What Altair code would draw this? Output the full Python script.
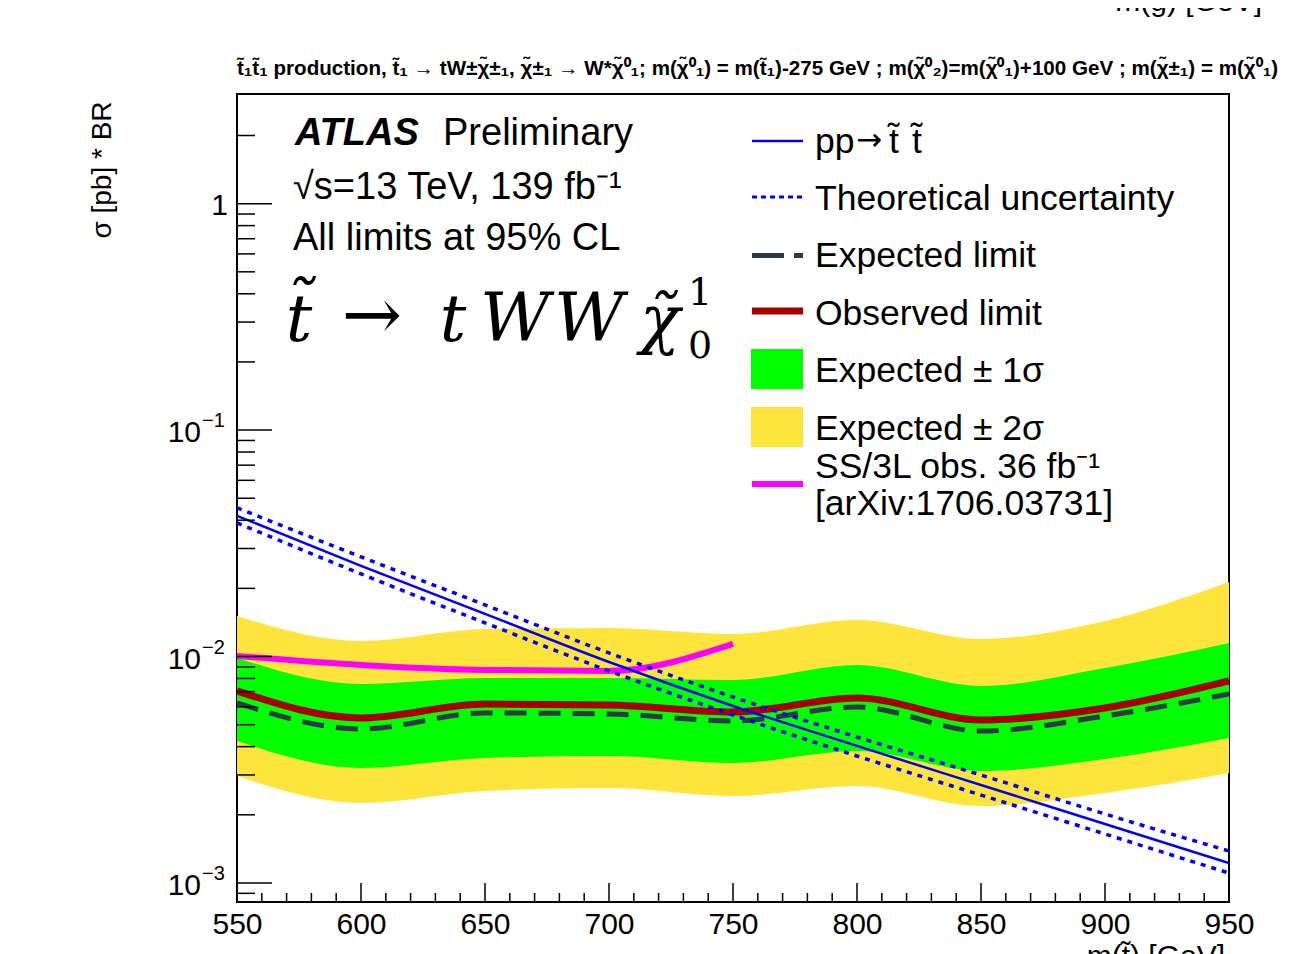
import altair as alt
import pandas as pd

# ---------------- data ----------------
mass = [550, 600, 650, 700, 750, 800, 850, 900, 950]
theory = [0.04181, 0.02514, 0.01543, 0.00946, 0.00605, 0.00403, 0.002707, 0.001821, 0.001224]
theory_up = [0.04537, 0.02755, 0.01690, 0.01037, 0.006629, 0.004413, 0.002998, 0.002016, 0.001384]
theory_down = [0.03894, 0.02317, 0.01408, 0.008639, 0.005519, 0.003636, 0.002445, 0.001645, 0.001106]
expected = [0.006237, 0.004787, 0.005634, 0.005577, 0.005193, 0.005989, 0.004690, 0.005464, 0.006835]
observed = [0.007047, 0.005355, 0.006172, 0.006110, 0.005691, 0.006561, 0.005246, 0.005929, 0.007802]
exp_1s_up = [0.009858, 0.007565, 0.008043, 0.008043, 0.007882, 0.009181, 0.007417, 0.008906, 0.01148]
exp_1s_down = [0.004236, 0.003219, 0.003563, 0.003636, 0.003387, 0.003827, 0.003123, 0.003527, 0.004368]
exp_2s_up = [0.01511, 0.01172, 0.01324, 0.01338, 0.01259, 0.01451, 0.01196, 0.01437, 0.02136]
exp_2s_down = [0.002968, 0.002255, 0.002548, 0.002627, 0.002421, 0.002681, 0.002187, 0.002496, 0.003059]
ss3l_mass = [550, 600, 650, 700, 750]
ss3l_obs = [0.01006, 0.009181, 0.008727, 0.008639, 0.01137]

x_major = [550, 600, 650, 700, 750, 800, 850, 900, 950]
x_minor = [m for m in range(560, 950, 10) if m % 50 != 0]
y_major = [0.001, 0.01, 0.1, 1]
y_minor = [0.0009,
           0.002, 0.003, 0.004, 0.005, 0.006, 0.007, 0.008, 0.009,
           0.02, 0.03, 0.04, 0.05, 0.06, 0.07, 0.08, 0.09,
           0.2, 0.3, 0.4, 0.5, 0.6, 0.7, 0.8, 0.9, 2]
y_label_vals = [0.1, 0.01, 0.001]
y_label_sups = ["\u22121", "\u22122", "\u22123"]

legend_labels = ["Theoretical uncertainty", "Expected limit",
                 "Observed limit", "Expected \u00b1 1\u03c3", "Expected \u00b1 2\u03c3",
                 "SS/3L obs. 36 fb\u207b\u00b9", "[arXiv:1706.03731]"]

# ---------------- style ----------------
SANS = "Liberation Sans, Arial, Helvetica, sans-serif"
SERIF = "DejaVu Serif, Liberation Serif, serif"
YEL = "#FFE53B"
GRN = "#00FF00"
RED = "#A80000"
DKG = "#2D3B44"
BLU = "#0000FF"
MAG = "#FF00FF"
W, H = 992, 808

xscale = alt.Scale(domain=[550, 950], nice=False, zero=False)
yscale = alt.Scale(type="log", domain=[0.000824, 3.05], nice=False)
xaxis = alt.Axis(values=x_major, ticks=False, domain=False, grid=False, labelFontSize=30,
                 labelFont=SANS, labelColor="black", labelPadding=7, title=None,
                 labelFlush=False, labelOverlap=False, tickSize=0, format="d")

band_df = pd.DataFrame({"m": mass, "lo2": exp_2s_down, "hi2": exp_2s_up,
                        "lo1": exp_1s_down, "hi1": exp_1s_up})
line_df = pd.DataFrame({"m": mass, "theory": theory, "up": theory_up, "down": theory_down,
                        "exp": expected, "obs": observed})
ss_df = pd.DataFrame({"m": ss3l_mass, "v": ss3l_obs})

X = alt.X("m:Q", scale=xscale, axis=xaxis)


def Y(field):
    return alt.Y(field, scale=yscale, axis=None)


yellow = alt.Chart(band_df).mark_area(color=YEL, interpolate="monotone", clip=True).encode(
    x=X, y=Y("lo2:Q"), y2="hi2:Q")
green = alt.Chart(band_df).mark_area(color=GRN, interpolate="monotone", clip=True).encode(
    x=X, y=Y("lo1:Q"), y2="hi1:Q")
exp_line = alt.Chart(line_df).mark_line(color=DKG, strokeWidth=5, strokeDash=[22, 12],
                                        interpolate="monotone", clip=True).encode(x=X, y=Y("exp:Q"))
obs_line = alt.Chart(line_df).mark_line(color=RED, strokeWidth=7, interpolate="monotone",
                                        clip=True).encode(x=X, y=Y("obs:Q"))
ss_line = alt.Chart(ss_df).mark_line(color=MAG, strokeWidth=6, interpolate="monotone",
                                     clip=True).encode(x=X, y=Y("v:Q"))
th_up = alt.Chart(line_df).mark_line(color=BLU, strokeWidth=3.5, strokeDash=[5, 6],
                                     interpolate="monotone", clip=True).encode(x=X, y=Y("up:Q"))
th_dn = alt.Chart(line_df).mark_line(color=BLU, strokeWidth=3.5, strokeDash=[5, 6],
                                     interpolate="monotone", clip=True).encode(x=X, y=Y("down:Q"))
th = alt.Chart(line_df).mark_line(color=BLU, strokeWidth=2.5, interpolate="monotone",
                                  clip=True).encode(x=X, y=Y("theory:Q"))

# inward ticks
ymaj = alt.Chart(pd.DataFrame({"v": y_major})).mark_rule(color="black", strokeWidth=1.5).encode(
    y=Y("v:Q"), x=alt.value(0), x2=alt.value(35))
ymin = alt.Chart(pd.DataFrame({"v": y_minor})).mark_rule(color="black", strokeWidth=1.5).encode(
    y=Y("v:Q"), x=alt.value(0), x2=alt.value(18))
xmaj = alt.Chart(pd.DataFrame({"m": x_major})).mark_rule(color="black", strokeWidth=1.5).encode(
    x=X, y=alt.value(H), y2=alt.value(H - 19))
xmin = alt.Chart(pd.DataFrame({"m": x_minor})).mark_rule(color="black", strokeWidth=1.5).encode(
    x=X, y=alt.value(H), y2=alt.value(H - 9))

# y labels
ylab_df = pd.DataFrame({"v": y_label_vals, "base": ["10"] * 3, "sup": y_label_sups})
ylab10 = alt.Chart(ylab_df).mark_text(align="right", baseline="middle", fontSize=30, font=SANS,
                                      dy=3, color="black").encode(
    x=alt.value(-36), y=Y("v:Q"), text="base:N")
ylabsup = alt.Chart(ylab_df).mark_text(align="left", baseline="middle", fontSize=20, font=SANS,
                                       dy=-9, color="black").encode(
    x=alt.value(-35), y=Y("v:Q"), text="sup:N")
ylab1 = alt.Chart(pd.DataFrame({"v": [1], "t": ["1"]})).mark_text(
    align="right", baseline="middle", fontSize=30, font=SANS, dy=2, color="black").encode(
    x=alt.value(-9), y=Y("v:Q"), text="t:N")

dummy = pd.DataFrame({"a": [0]})


def txt(text, x, y, size, font=SANS, align="left", baseline="alphabetic", weight="normal",
        style="normal", angle=0, color="black"):
    kw = dict(text=text, align=align, baseline=baseline, fontSize=size, font=font,
              fontWeight=weight, fontStyle=style, color=color)
    if angle:
        kw["angle"] = angle
    return alt.Chart(dummy).mark_text(**kw).encode(x=alt.value(x), y=alt.value(y))


def hline(x1, x2, y, color, width, dash=None):
    kw = dict(color=color, strokeWidth=width)
    if dash:
        kw["strokeDash"] = dash
    return alt.Chart(dummy).mark_rule(**kw).encode(x=alt.value(x1), x2=alt.value(x2), y=alt.value(y))


def box(x1, x2, y1, y2, color):
    return alt.Chart(dummy).mark_rect(color=color).encode(
        x=alt.value(x1), x2=alt.value(x2), y=alt.value(y1), y2=alt.value(y2))


title_txt = ("t\u0303\u2081t\u0303\u2081 production,  t\u0303\u2081 \u2192 tW\u00b1\u03c7\u0303\u00b1\u2081, "
             "\u03c7\u0303\u00b1\u2081 \u2192 W*\u03c7\u0303\u2070\u2081; m(\u03c7\u0303\u2070\u2081) = "
             "m(t\u0303\u2081)-275 GeV ; m(\u03c7\u0303\u2070\u2082)=m(\u03c7\u0303\u2070\u2081)+100 GeV ; "
             "m(\u03c7\u0303\u00b1\u2081) = m(\u03c7\u0303\u2070\u2081)")

annot = [
    txt(title_txt, 0, -19, 20.6, font="Liberation Sans", weight="bold"),
    txt("m(g\u0303) [GeV]", 1025, -83, 30, align="right"),
    txt("m(t\u0303) [GeV]", 988, 872, 30, align="right"),
    txt("\u03c3 [pb] * BR", -134, 76, 28, align="center", baseline="middle", angle=270),
    txt("ATLAS", 58, 51, 38, weight="bold", style="italic"),
    txt("Preliminary", 206, 51, 38),
    txt("\u221as=13 TeV, 139 fb\u207b\u00b9", 56, 105, 38),
    txt("All limits at 95% CL", 56, 156, 38),
    # big formula
    txt("t\u0303", 62, 247, 66, font=SERIF, style="italic", align="center"),
    txt("\u2192", 135, 245, 72, font=SERIF, align="center"),
    txt("t", 216, 247, 66, font=SERIF, style="italic", align="center"),
    txt("W", 278, 247, 68, font=SERIF, style="italic", align="center"),
    txt("W", 352, 247, 68, font=SERIF, style="italic", align="center"),
    txt("\u03c7\u0303", 423, 247, 66, font=SERIF, style="italic", align="center"),
    txt("1", 463, 211, 38, font=SERIF, align="center"),
    txt("0", 463, 264, 38, font=SERIF, align="center"),
]

# legend
leg = [
    hline(515, 566, 47, BLU, 2.5),
    hline(515, 566, 103, BLU, 3, [5, 4]),
    hline(515, 566, 161.5, DKG, 5, [32, 10]),
    hline(515, 566, 217, RED, 7),
    box(514, 566, 255, 295, GRN),
    box(514, 566, 313, 353, YEL),
    hline(515, 566, 390, MAG, 6),
    txt("pp", 578, 59, 35.5),
    txt("\u2192", 619, 56, 31, font="DejaVu Sans"),
    txt("t\u0303", 652, 59, 35.5),
    txt("t\u0303", 675, 59, 35.5),
]
leg_base = [116, 173, 231, 288, 346, 384, 421]
for lab, yb in zip(legend_labels, leg_base):
    leg.append(txt(lab, 578, yb, 35.5))

chart = alt.layer(
    yellow, green, exp_line, obs_line, ss_line, th_up, th_dn, th,
    ymaj, ymin, xmaj, xmin, ylab10, ylabsup, ylab1, *annot, *leg
).properties(
    width=W, height=H,
    autosize=alt.AutoSizeParams(type="none"),
    padding={"left": 229, "top": 86, "right": 70, "bottom": 60},
    background="white",
).configure_view(stroke="black", strokeWidth=2)

chart.save("out.html", embed_options={"renderer": "svg", "actions": False})
